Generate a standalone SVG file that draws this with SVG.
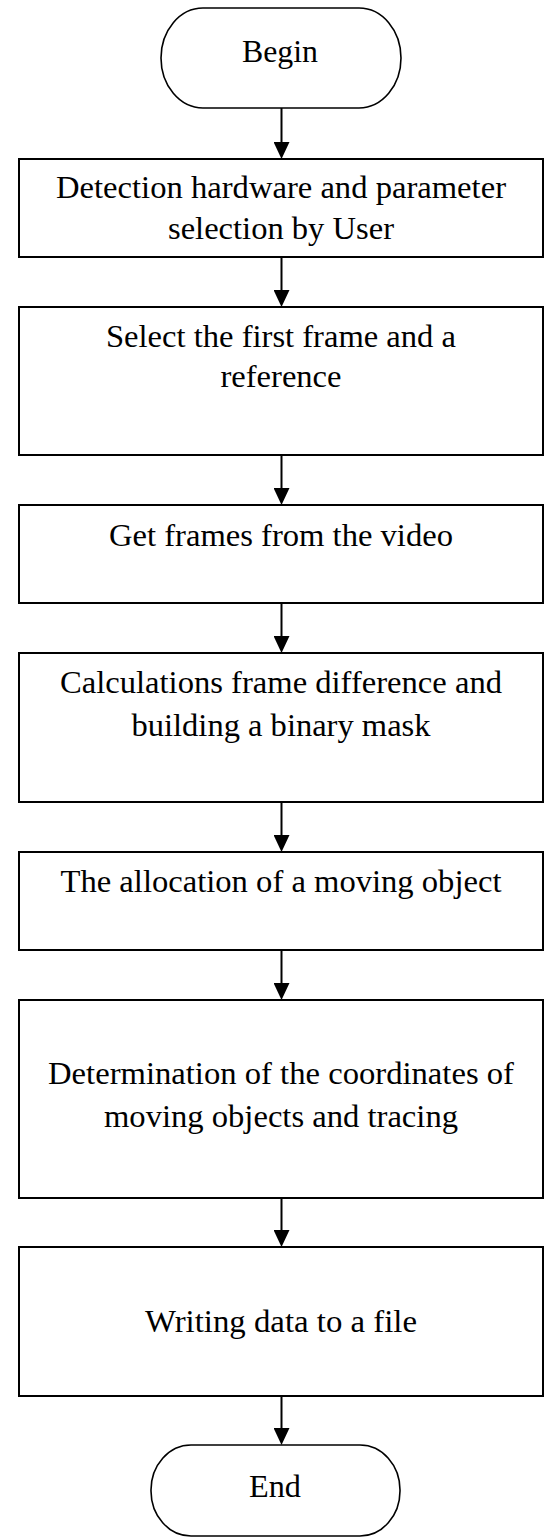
<svg xmlns="http://www.w3.org/2000/svg" width="545" height="1540" viewBox="0 0 545 1540">
  <style>
    .box { fill: #ffffff; stroke: #000000; stroke-width: 2; }
    .term { fill: #ffffff; stroke: #000000; stroke-width: 1.6; }
    .lbl { font-family: "Liberation Serif", "Times New Roman", Tinos, serif; font-size: 31.5px; fill: #000000; text-anchor: middle; }
    .edge { stroke: #000000; stroke-width: 2; fill: none; marker-end: url(#arrow); }
  </style>
  <defs>
    <marker id="arrow" markerUnits="userSpaceOnUse" viewBox="0 0 17 16" markerWidth="17" markerHeight="16" refX="7" refY="8" orient="auto">
      <path d="M0,0 L17,8 L0,16 Z" fill="#000000"/>
    </marker>
  </defs>
  <rect x="0" y="0" width="545" height="1540" fill="#ffffff"/>

  <g id="connectors">
    <line class="edge" x1="281.5" y1="108" x2="281.5" y2="149"/>
    <line class="edge" x1="281.5" y1="257" x2="281.5" y2="297"/>
    <line class="edge" x1="281.5" y1="455" x2="281.5" y2="495"/>
    <line class="edge" x1="281.5" y1="603" x2="281.5" y2="643"/>
    <line class="edge" x1="281.5" y1="802" x2="281.5" y2="842"/>
    <line class="edge" x1="281.5" y1="950" x2="281.5" y2="990"/>
    <line class="edge" x1="281.5" y1="1198" x2="281.5" y2="1237"/>
    <line class="edge" x1="281.5" y1="1396" x2="281.5" y2="1435"/>
  </g>

  <g id="begin">
    <rect class="term" x="161" y="8" width="240" height="100" rx="42" ry="50"/>
    <text class="lbl" x="280" y="62" textLength="76" lengthAdjust="spacingAndGlyphs">Begin</text>
  </g>

  <g id="step1">
    <rect class="box" x="19" y="159" width="524" height="98"/>
    <text class="lbl" x="281" y="198" textLength="450" lengthAdjust="spacingAndGlyphs">Detection hardware and parameter</text>
    <text class="lbl" x="281" y="239" textLength="226" lengthAdjust="spacingAndGlyphs">selection by User</text>
  </g>

  <g id="step2">
    <rect class="box" x="19" y="307" width="524" height="148"/>
    <text class="lbl" x="281" y="347" textLength="350" lengthAdjust="spacingAndGlyphs">Select the first frame and a</text>
    <text class="lbl" x="281" y="387" textLength="121" lengthAdjust="spacingAndGlyphs">reference</text>
  </g>

  <g id="step3">
    <rect class="box" x="19" y="505" width="524" height="98"/>
    <text class="lbl" x="281" y="546" textLength="344" lengthAdjust="spacingAndGlyphs">Get frames from the video</text>
  </g>

  <g id="step4">
    <rect class="box" x="19" y="653" width="524" height="149"/>
    <text class="lbl" x="281" y="693" textLength="442" lengthAdjust="spacingAndGlyphs">Calculations frame difference and</text>
    <text class="lbl" x="281" y="736" textLength="299" lengthAdjust="spacingAndGlyphs">building a binary mask</text>
  </g>

  <g id="step5">
    <rect class="box" x="19" y="852" width="524" height="98"/>
    <text class="lbl" x="281" y="892" textLength="441" lengthAdjust="spacingAndGlyphs">The allocation of a moving object</text>
  </g>

  <g id="step6">
    <rect class="box" x="19" y="1000" width="524" height="198"/>
    <text class="lbl" x="281" y="1084" textLength="466" lengthAdjust="spacingAndGlyphs">Determination of the coordinates of</text>
    <text class="lbl" x="281" y="1127" textLength="354" lengthAdjust="spacingAndGlyphs">moving objects and tracing</text>
  </g>

  <g id="step7">
    <rect class="box" x="19" y="1247" width="524" height="149"/>
    <text class="lbl" x="281" y="1332" textLength="272" lengthAdjust="spacingAndGlyphs">Writing data to a file</text>
  </g>

  <g id="end">
    <rect class="term" x="151" y="1445" width="249" height="91" rx="40" ry="45"/>
    <text class="lbl" x="275" y="1497" textLength="52" lengthAdjust="spacingAndGlyphs">End</text>
  </g>
</svg>
